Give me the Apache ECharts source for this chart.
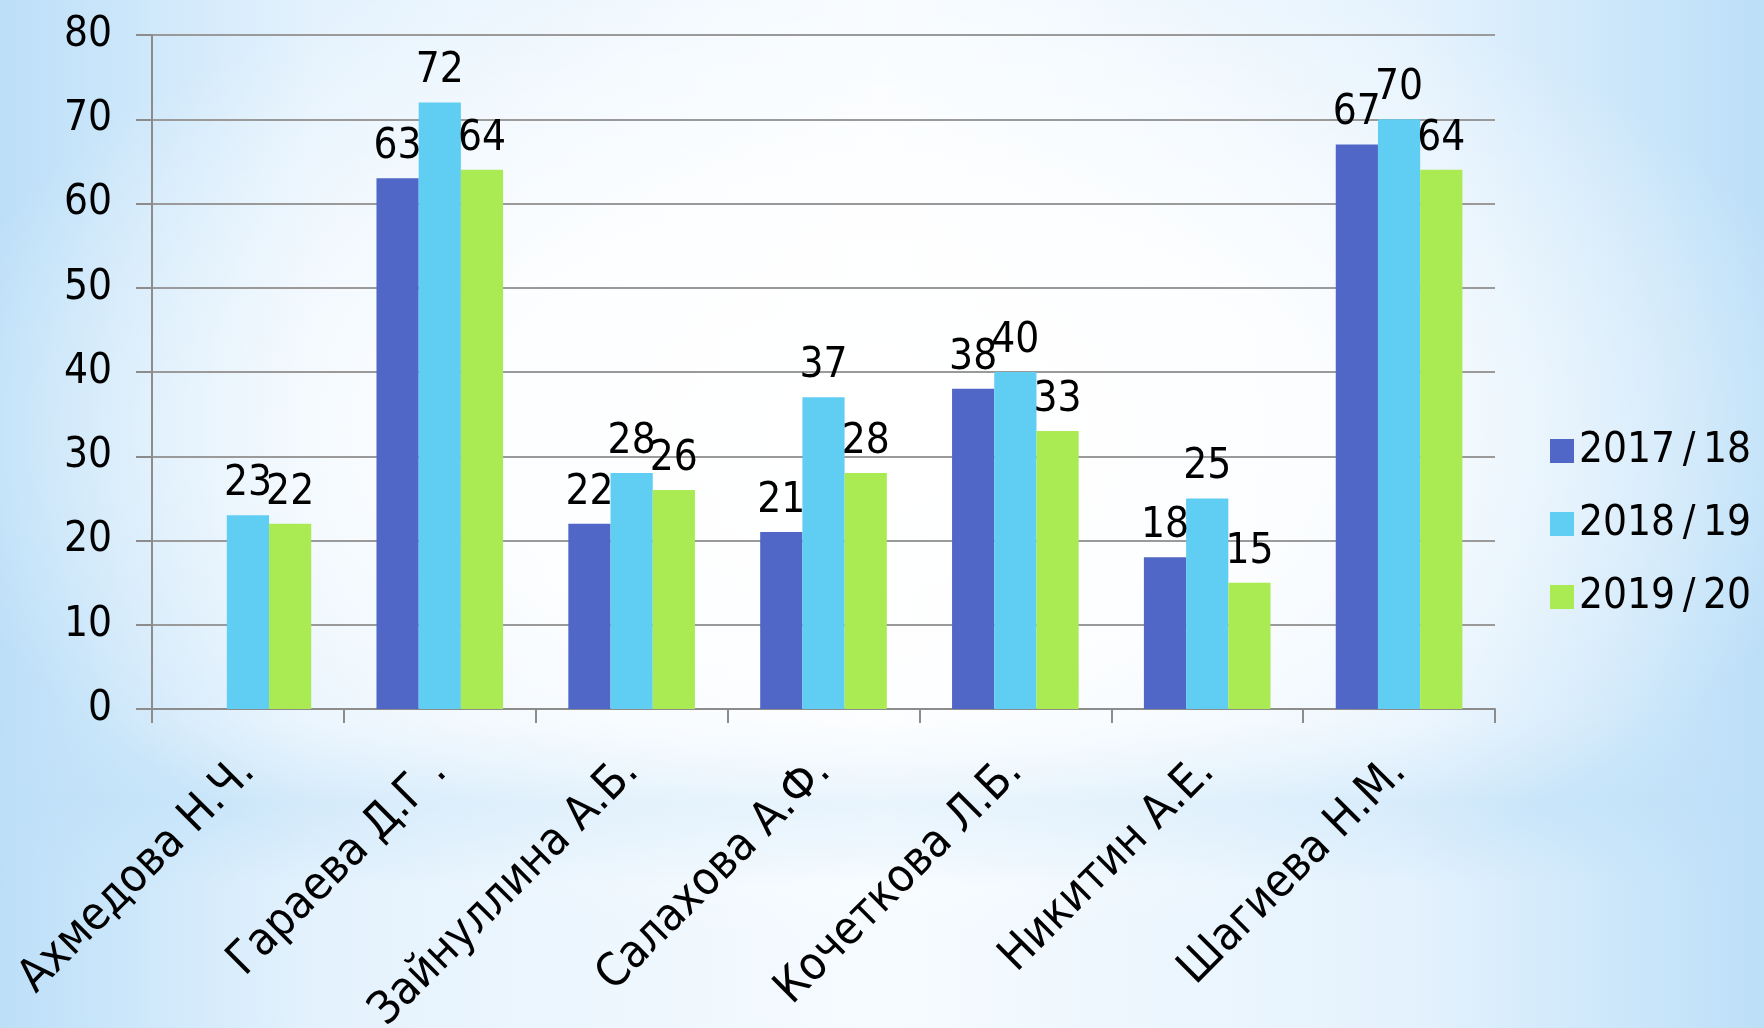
<!DOCTYPE html>
<html>
<head>
<meta charset="utf-8">
<script src="https://cdn.jsdelivr.net/npm/echarts@6/dist/echarts.min.js"></script>
<style>
html,body{margin:0;padding:0;width:1764px;height:1028px;overflow:hidden;}
body{
  background:
    radial-gradient(ellipse 55% 50% at 50% 42%, rgba(255,255,255,1) 0%, rgba(255,255,255,0.85) 45%, rgba(255,255,255,0) 100%),
    linear-gradient(180deg, rgba(255,255,255,0) 70%, rgba(190,224,248,0.55) 78%, rgba(255,255,255,0) 86%),
    linear-gradient(90deg, #bcdff8 0%, #e4f2fd 18%, #f6fbff 50%, #e4f2fd 80%, #bcdff8 100%);
}
#chart{width:1764px;height:1028px;}
</style>
</head>
<body>
<div id="chart"></div>
<script>
const categories = ["Ахмедова Н.Ч.", "Гараева Д.Г .", "Зайнуллина А.Б.", "Салахова А.Ф.", "Кочеткова Л.Б.", "Никитин А.Е.", "Шагиева Н.М."];
const seriesNames = ["2017/18", "2018/19", "2019/20"];
const values2017 = [null, 63, 22, 21, 38, 18, 67];
const values2018 = [23, 72, 28, 37, 40, 25, 70];
const values2019 = [22, 64, 26, 28, 33, 15, 64];
const yTicks = {min: 0, max: 80, interval: 10};

const colors = ["#5067c8", "#60cdf2", "#aaea52"];
const FONT = "'DejaVu Sans Condensed', 'DejaVu Sans', sans-serif";

const chart = echarts.init(document.getElementById('chart'), null, {renderer: 'canvas'});
const seriesData = [values2017, values2018, values2019];
chart.setOption({
  backgroundColor: 'transparent',
  animation: false,
  textStyle: {fontFamily: FONT},
  grid: {left: 152, right: 269, top: 35, bottom: 319, containLabel: false, outerBoundsMode: 'none'},
  legend: {
    orient: 'vertical',
    left: 1545,
    top: 425,
    itemWidth: 24,
    itemHeight: 24,
    itemGap: 31,
    icon: 'rect',
    textStyle: {fontSize: 42, color: '#000', fontFamily: FONT},
    formatter: function (n) { return n.replace('/', '\u2009/\u2009'); },
    data: seriesNames
  },
  xAxis: {
    type: 'category',
    data: categories,
    axisLine: {lineStyle: {color: '#8c8c8c', width: 2}},
    axisTick: {show: true, length: 14, alignWithLabel: false, lineStyle: {color: '#8c8c8c', width: 2}},
    axisLabel: {rotate: 45, margin: 56, fontSize: 46, color: '#000', fontFamily: FONT, interval: 0}
  },
  yAxis: {
    type: 'value',
    min: yTicks.min, max: yTicks.max, interval: yTicks.interval,
    axisLine: {show: true, lineStyle: {color: '#8c8c8c', width: 2}},
    axisTick: {show: true, length: 16, lineStyle: {color: '#8c8c8c', width: 2}},
    splitLine: {show: true, lineStyle: {color: '#9a9a9a', width: 2}},
    axisLabel: {margin: 40, fontSize: 42, color: '#000', fontFamily: FONT}
  },
  series: seriesNames.map((name, i) => ({
    name: name,
    type: 'bar',
    data: seriesData[i],
    barGap: '0%',
    barCategoryGap: '34%',
    itemStyle: {color: colors[i]},
    label: {show: true, position: 'top', distance: 10, fontSize: 42, color: '#000', fontFamily: FONT}
  }))
});
</script>
</body>
</html>
